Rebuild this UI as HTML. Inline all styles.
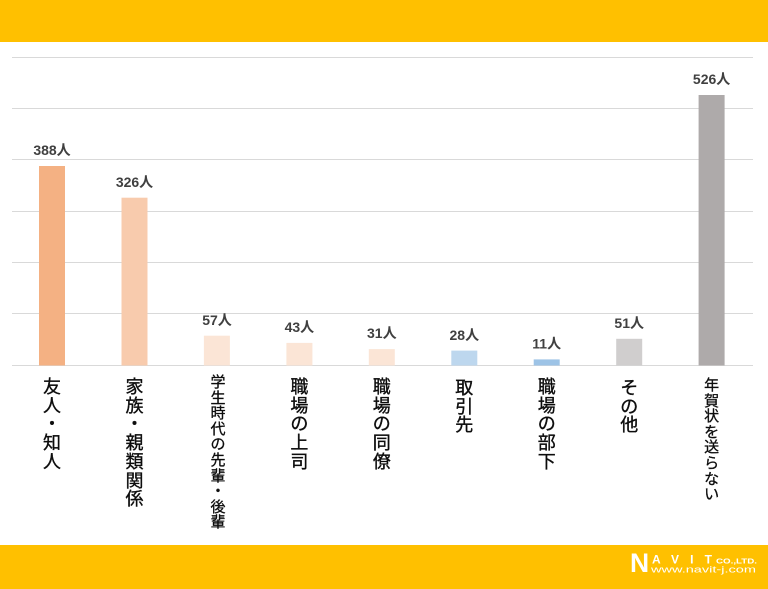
<!DOCTYPE html>
<html><head><meta charset="utf-8">
<style>
html,body{margin:0;padding:0;}
body{width:768px;height:589px;position:relative;background:#fff;overflow:hidden;font-family:"Liberation Sans","Noto Sans CJK JP",sans-serif;}
svg{position:absolute;left:0;top:0;}
.lab{position:absolute;width:30px;text-align:center;color:#0d0d0d;font-family:"Liberation Sans","Noto Sans CJK JP",sans-serif;font-size:18px;line-height:18.7px;-webkit-text-stroke:0.35px #0d0d0d;}
.sm{font-size:15px;line-height:15.6px;-webkit-text-stroke:0.3px #0d0d0d;}
</style></head><body>
<svg width="768" height="589" viewBox="0 0 768 589">
<rect x="0" y="0" width="768" height="42" fill="#FFC000"/>
<rect x="0" y="545" width="768" height="44" fill="#FFC000"/>
<g stroke="#D9D9D9" stroke-width="1">
<line x1="12" y1="57.5" x2="753" y2="57.5"/>
<line x1="12" y1="108.5" x2="753" y2="108.5"/>
<line x1="12" y1="159.5" x2="753" y2="159.5"/>
<line x1="12" y1="211.5" x2="753" y2="211.5"/>
<line x1="12" y1="262.5" x2="753" y2="262.5"/>
<line x1="12" y1="313.5" x2="753" y2="313.5"/>
<line x1="12" y1="365.5" x2="753" y2="365.5"/>
</g>
<rect x="39" y="166" width="26" height="199.5" fill="#F4B183"/>
<rect x="121.5" y="197.7" width="26" height="167.8" fill="#F8CBAD"/>
<rect x="203.9" y="335.7" width="26" height="29.8" fill="#FBE5D6"/>
<rect x="286.4" y="342.9" width="26" height="22.6" fill="#FBE5D6"/>
<rect x="368.8" y="349.1" width="26" height="16.4" fill="#FBE5D6"/>
<rect x="451.3" y="350.6" width="26" height="14.9" fill="#BDD7EE"/>
<rect x="533.7" y="359.4" width="26" height="6.1" fill="#9DC3E6"/>
<rect x="616.2" y="338.8" width="26" height="26.7" fill="#D0CECE"/>
<rect x="698.6" y="95" width="26" height="270.5" fill="#AEAAAA"/>
<g font-family="Liberation Sans, Noto Sans CJK JP, sans-serif" font-size="14" font-weight="bold" fill="#404040" text-anchor="middle">
<text x="52" y="155">388人</text>
<text x="134.5" y="187">326人</text>
<text x="217" y="325">57人</text>
<text x="299.4" y="332">43人</text>
<text x="381.8" y="338">31人</text>
<text x="464.3" y="340">28人</text>
<text x="546.7" y="348.5">11人</text>
<text x="629.2" y="328">51人</text>
<text x="711.6" y="84">526人</text>
</g>
<g fill="#fff" font-family="Liberation Sans, sans-serif" font-weight="bold">
<text x="630" y="572" font-size="26.5">N</text>
<text x="652" y="563.5" font-size="12" textLength="60" lengthAdjust="spacing">AVIT</text>
<text x="716" y="563.5" font-size="7" textLength="41" lengthAdjust="spacingAndGlyphs">CO.,LTD.</text>
<text x="651" y="572.5" font-size="9" font-weight="normal" textLength="105" lengthAdjust="spacingAndGlyphs">www.navit-j.com</text>
</g>
</svg>
<div class="lab" style="left:37px;top:378px;">友<br>人<br>・<br>知<br>人</div>
<div class="lab" style="left:119.5px;top:378px;">家<br>族<br>・<br>親<br>類<br>関<br>係</div>
<div class="lab sm" style="left:203px;top:375px;">学<br>生<br>時<br>代<br>の<br>先<br>輩<br>・<br>後<br>輩</div>
<div class="lab" style="left:284.4px;top:378px;">職<br>場<br>の<br>上<br>司</div>
<div class="lab" style="left:366.8px;top:378px;">職<br>場<br>の<br>同<br>僚</div>
<div class="lab" style="left:449.3px;top:379px;">取<br>引<br>先</div>
<div class="lab" style="left:531.7px;top:378px;">職<br>場<br>の<br>部<br>下</div>
<div class="lab" style="left:614.2px;top:379px;">そ<br>の<br>他</div>
<div class="lab sm" style="left:696.6px;top:378px;">年<br>賀<br>状<br>を<br>送<br>ら<br>な<br>い</div>
</body></html>
